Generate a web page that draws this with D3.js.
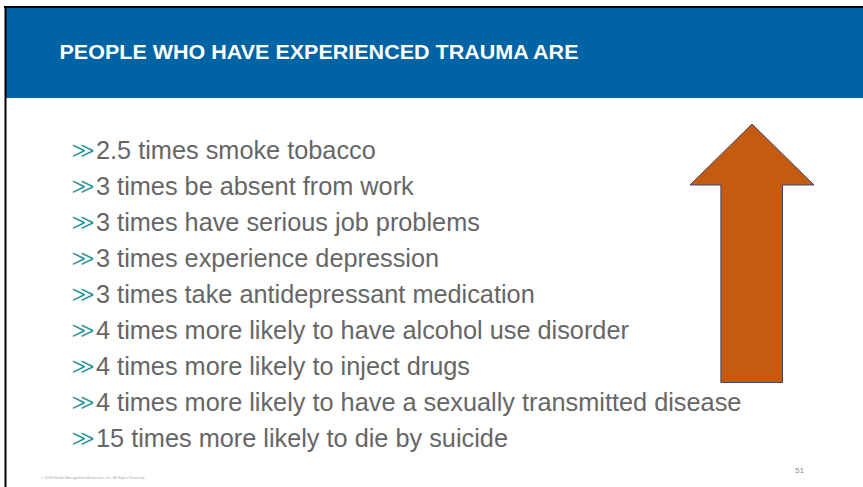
<!DOCTYPE html>
<html>
<head>
<meta charset="utf-8">
<script src="https://cdn.jsdelivr.net/npm/d3@7"></script>
<style>
  html, body { margin: 0; padding: 0; background: #fff; }
  svg { display: block; }
</style>
</head>
<body>
<div id="slide"></div>
<script>

const viewWidth = 863 ;
const viewHeight = 487 ;

// slide content
const title = "PEOPLE WHO HAVE EXPERIENCED TRAUMA ARE" ;
const multipliers = [ "2.5", "3", "3", "3", "3", "4", "4", "4", "15" ] ;
const outcomes = [
	"times smoke tobacco",
	"times be absent from work",
	"times have serious job problems",
	"times experience depression",
	"times take antidepressant medication",
	"times more likely to have alcohol use disorder",
	"times more likely to inject drugs",
	"times more likely to have a sexually transmitted disease",
	"times more likely to die by suicide"
] ;
const footer = "\u00a9 2026 Health Management Associates, Inc. All Rights Reserved." ;
const pageNumber = "51" ;

// arrow outline in unit coordinates (x 0..1, y 0..1 top to bottom)
const arrowShape = [
	[0.5, 0], [1, 0.236], [0.746, 0.236], [0.746, 1],
	[0.249, 1], [0.249, 0.236], [0, 0.236]
] ;

const svg = d3.select( "#slide" ).append( "svg" )
	.attr( "width", viewWidth )
	.attr( "height", viewHeight )
	.attr( "viewBox", "0 0 " + viewWidth + " " + viewHeight )

// header band
svg.append( "rect" )
	.attr( "x", 5 ).attr( "y", 7 )
	.attr( "width", viewWidth - 5 ).attr( "height", 91 )
	.attr( "fill", "#0063A3" )

// frame lines (top + left)
svg.append( "line" )
	.attr( "x1", 4 ).attr( "x2", viewWidth ).attr( "y1", 7 ).attr( "y2", 7 )
	.attr( "stroke", "#000" ).attr( "stroke-width", 2 )
svg.append( "line" )
	.attr( "x1", 5.5 ).attr( "x2", 5.5 ).attr( "y1", 6 ).attr( "y2", viewHeight )
	.attr( "stroke", "#000" ).attr( "stroke-width", 2 )

svg.append( "text" )
	.attr( "x", 59.5 ).attr( "y", 58.5 )
	.attr( "fill", "#fff" )
	.style( "font-family", "'Liberation Sans', Arial, sans-serif" )
	.style( "font-weight", "bold" )
	.style( "font-size", "21px" )
	.attr( "textLength", 519 )
	.attr( "lengthAdjust", "spacingAndGlyphs" )
	.text( title )

// bullet rows
const y = d3.scaleBand()
	.domain( d3.range( outcomes.length ) )
	.range( [ 131, 456 ] )

const rows = svg.append( "g" ).attr( "class", "bullets" )
	.selectAll( "g" )
	.data( outcomes )
	.enter().append( "g" )
	.attr( "transform", function(d, i) { return "translate(0," + ( y(i) + y.bandwidth()/2 ) + ")" } )

// bullet glyph, thinned a little with a white stroke on top of the fill
rows.append( "text" )
	.attr( "x", 71 ).attr( "y", 8.5 )
	.attr( "fill", "#1A8A8A" )
	.attr( "stroke", "#fff" )
	.attr( "stroke-width", 0.5 )
	.style( "font-family", "'DejaVu Sans', sans-serif" )
	.style( "font-size", "23px" )
	.text( "\u226B" )

rows.append( "text" )
	.attr( "x", 96 ).attr( "y", 9.5 )
	.attr( "fill", "#666" )
	.style( "font-family", "'Liberation Sans', Arial, sans-serif" )
	.style( "font-size", "25.3px" )
	.text( function(d, i) { return multipliers[i] + " " + d } )

// arrow
const ax = d3.scaleLinear().domain( [0, 1] ).range( [ 690, 814 ] )
const ay = d3.scaleLinear().domain( [0, 1] ).range( [ 124, 382.5 ] )

svg.append( "path" )
	.datum( arrowShape )
	.attr( "d", d3.line().x( function(p) { return ax(p[0]) } ).y( function(p) { return ay(p[1]) } ).curve( d3.curveLinearClosed ) )
	.attr( "fill", "#C55A11" )
	.attr( "stroke", "#3B4A66" )
	.attr( "stroke-width", 1 )

// footer
svg.append( "text" )
	.attr( "x", 41 ).attr( "y", 479 )
	.attr( "fill", "#aaa" )
	.style( "font-family", "'Liberation Sans', Arial, sans-serif" )
	.style( "font-size", "3.6px" )
	.text( footer )

svg.append( "text" )
	.attr( "x", 795 ).attr( "y", 473 )
	.attr( "fill", "#8a8a8a" )
	.style( "font-family", "'Liberation Sans', Arial, sans-serif" )
	.style( "font-size", "8px" )
	.text( pageNumber )

</script>
</body>
</html>
